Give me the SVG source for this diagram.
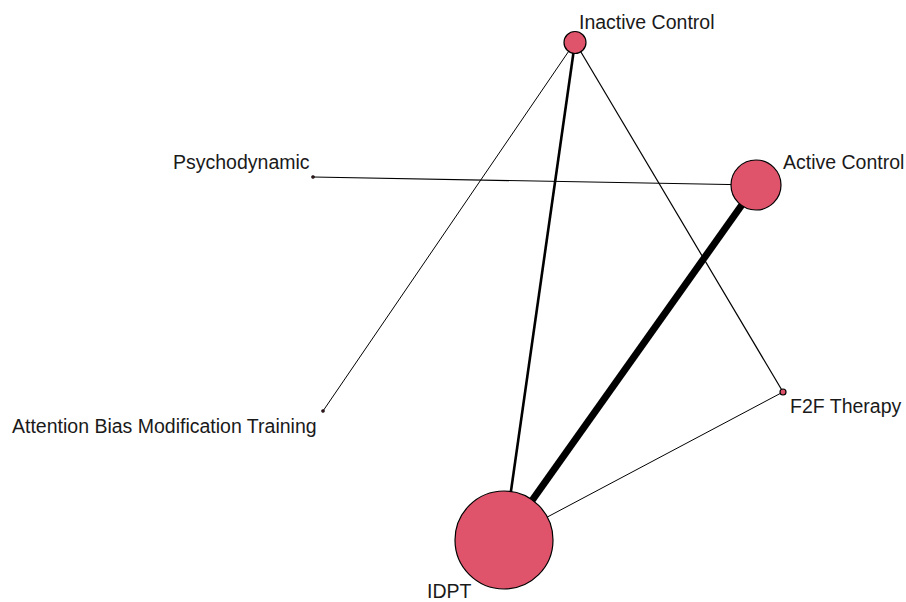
<svg xmlns="http://www.w3.org/2000/svg" width="906" height="602" viewBox="0 0 906 602">
<style>
.e{stroke:#000;fill:none;stroke-linecap:butt}
.n{fill:#DF536B;stroke:#000;stroke-width:1.2}
text{font-family:"Liberation Sans",Arial,sans-serif;font-size:19.5px;fill:#1a1a1a}
</style>
<rect width="906" height="602" fill="#fff"/>
<g id="edges">
<line class="e" x1="575" y1="42" x2="504" y2="540" stroke-width="2.6"/>
<line class="e" x1="575" y1="42" x2="323" y2="411" stroke-width="1"/>
<line class="e" x1="575" y1="42" x2="783" y2="392" stroke-width="1.2"/>
<line class="e" x1="313" y1="177" x2="756" y2="185" stroke-width="1.2"/>
<line class="e" x1="756" y1="185" x2="504" y2="540" stroke-width="7"/>
<line class="e" x1="783" y1="392" x2="504" y2="540" stroke-width="1"/>
</g>
<g id="inactive-control"><circle class="n" cx="575" cy="42.5" r="11"/><text x="579" y="29">Inactive Control</text></g>
<g id="active-control"><circle class="n" cx="756" cy="185" r="25"/><text x="783" y="169">Active Control</text></g>
<g id="psychodynamic"><circle class="n" cx="313" cy="177" r="1.2"/><text x="173" y="169">Psychodynamic</text></g>
<g id="abmt"><circle class="n" cx="323" cy="411" r="1.2"/><text x="12" y="433">Attention Bias Modification Training</text></g>
<g id="f2f-therapy"><circle class="n" cx="783" cy="392" r="3"/><text x="790" y="413">F2F Therapy</text></g>
<g id="idpt"><circle class="n" cx="504" cy="540" r="49"/><text x="427" y="598">IDPT</text></g>
</svg>
